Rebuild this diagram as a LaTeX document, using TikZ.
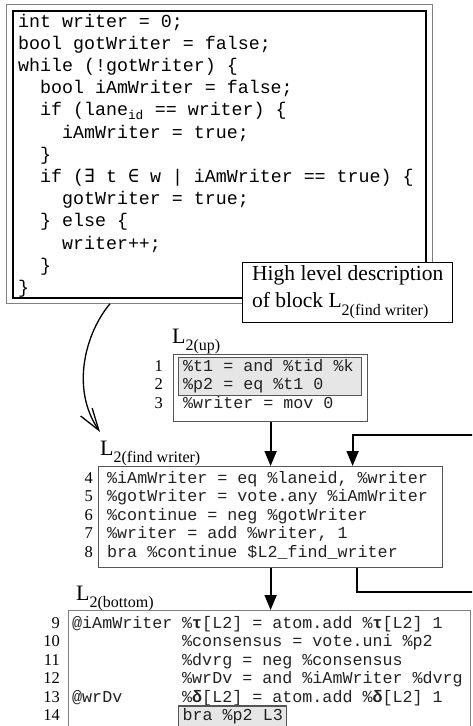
\documentclass[tikz,border=0pt]{standalone}
\usepackage{fontspec}
\setmainfont{Liberation Serif}
\setmonofont{Liberation Mono}
\newfontfamily\symmono{DejaVu Sans Mono}
\usetikzlibrary{arrows.meta, positioning, calc}
\definecolor{boxgray}{HTML}{555555}
\definecolor{linegray}{HTML}{808080}
\definecolor{selfill}{HTML}{E6E6E6}
\definecolor{codeink}{HTML}{222222}
\tikzset{
  hlcode/.style={anchor=base west, inner sep=0pt, font=\fontsize{18.3}{20}\selectfont\ttfamily},
  ircode/.style={anchor=base west, inner sep=0pt, text=codeink, font=\fontsize{16.7}{18}\selectfont\ttfamily},
  lnum/.style={anchor=base east, inner sep=0pt, font=\fontsize{16.5}{18}\selectfont},
  blk/.style={draw=boxgray, line width=1.2pt, anchor=north west},
  sel/.style={draw=boxgray, line width=1.2pt, fill=selfill},
  blkname/.style={anchor=base west, inner sep=0pt, font=\fontsize{22}{24}\selectfont},
  flow/.style={-{Triangle[length=15pt,width=12pt]}, line width=1.8pt},
  note/.style={draw, line width=1.4pt, fill=white, align=left, anchor=north west,
               minimum width=210pt, minimum height=57pt, inner xsep=7pt,
               font=\fontsize{21.5}{27}\selectfont},
}
\newcommand{\lsub}[1]{L\raisebox{-0.35em}{\fontsize{16}{16}\selectfont #1}}
\newcommand{\sym}[1]{{\symmono #1}}

\begin{document}
\begin{tikzpicture}[x=1pt, y=-1pt]
  \useasboundingbox (0,0) rectangle (472,726);
  \clip (0,0) rectangle (472,726);
  % high level description
  \node[draw=linegray, line width=0.8pt, anchor=north west, minimum width=426pt, minimum height=299pt] (src) at (6,4) {};
  \node[draw, line width=1.8pt, anchor=north west, minimum width=413pt, minimum height=287pt] (srcin) at (12,10) {};
  \foreach \i/\c/\txt in {0/0/{int writer = 0;}, 1/0/{bool gotWriter = false;}, 2/0/{while (!gotWriter) \{},
      3/2/{bool iAmWriter = false;}, 4/2/{if (lane\textsubscript{id} == writer) \{}, 5/4/{iAmWriter = true;},
      6/2/{\}}, 7/2/{if (\sym{∃} t \sym{∈} w | iAmWriter == true) \{}, 8/4/{gotWriter = true;},
      9/2/{\} else \{}, 10/4/{writer++;}, 11/2/{\}}, 12/0/{\}}}
    \node[hlcode] (s\i) at (18+10.98*\c, 27+22.2*\i) {\txt};
  \node[note] (desc) at (242,262) {High level description\\of block \lsub{2(find writer)}};

  % L2(up)
  \node[blkname] (upname) at (172,343) {\lsub{2(up)}};
  \node[blk, minimum width=194pt, minimum height=67pt] (up) at (173,354) {};
  \node[sel, anchor=north west, minimum width=183pt, minimum height=38pt] (upsel) at (178,357) {};
  \foreach \i/\txt in {1/{\%t1 = and \%tid \%k}, 2/{\%p2 = eq \%t1 0}, 3/{\%writer = mov 0}}{
    \node[lnum] (n\i) at (163, 352.5+18.5*\i) {\i};
    \node[ircode] (c\i) at (183, 352.5+18.5*\i) {\txt};}

  % L2(find writer)
  \node[blkname] (findname) at (100,455) {\lsub{2(find writer)}};
  \node[blk, minimum width=344pt, minimum height=101pt] (find) at (98,466) {};
  \foreach \i/\txt in {4/{\%iAmWriter = eq \%laneid, \%writer}, 5/{\%gotWriter = vote.any \%iAmWriter},
      6/{\%continue = neg \%gotWriter}, 7/{\%writer = add \%writer, 1}, 8/{bra \%continue \$L2\_find\_writer}}{
    \node[lnum] (n\i) at (93, 409+18.5*\i) {\i};
    \node[ircode] (c\i) at (107, 409+18.5*\i) {\txt};}

  % L2(bottom)
  \node[blkname] (botname) at (76,600) {\lsub{2(bottom)}};
  \node[blk, draw=linegray, minimum width=402pt, minimum height=140pt] (bot) at (68,610) {};
  \foreach \i/\lhs/\txt in {9/{@iAmWriter}/{\%{\bfseries τ}[L2] = atom.add \%{\bfseries τ}[L2] 1},
      10/{}/{\%consensus = vote.uni \%p2}, 11/{}/{\%dvrg = neg \%consensus},
      12/{}/{\%wrDv = and \%iAmWriter \%dvrg}, 13/{@wrDv}/{\%{\bfseries δ}[L2] = atom.add \%{\bfseries δ}[L2] 1}}{
    \node[lnum] (n\i) at (60, 461.5+18.5*\i) {\i};
    \node[ircode] (p\i) at (72, 461.5+18.5*\i) {\lhs};
    \node[ircode] (c\i) at (182, 461.5+18.5*\i) {\txt};}
  \node[lnum] (n14) at (60, 720.5) {14};
  \node[sel, ircode, inner xsep=4pt, inner ysep=2.5pt] (c14) at (178, 720.5) {bra \%p2 L3};

  % connectors
  \draw[line width=1.3pt, -{Straight Barb[length=22pt,width=14pt]}] ([xshift=104pt]src.south west)
        .. controls (86,332) and (70,388) .. (100,432);
  \draw[flow] (up.south) -- (find.north);
  \draw[flow] (find.south) -- (find.south |- bot.north);
  \coordinate (loopout) at (480,592);
  \coordinate (loopin) at (480,435);
  \draw[flow] ([xshift=86pt]find.south) |- (loopout) -- (loopin) -| ([xshift=82pt]find.north);
\end{tikzpicture}
\end{document}
